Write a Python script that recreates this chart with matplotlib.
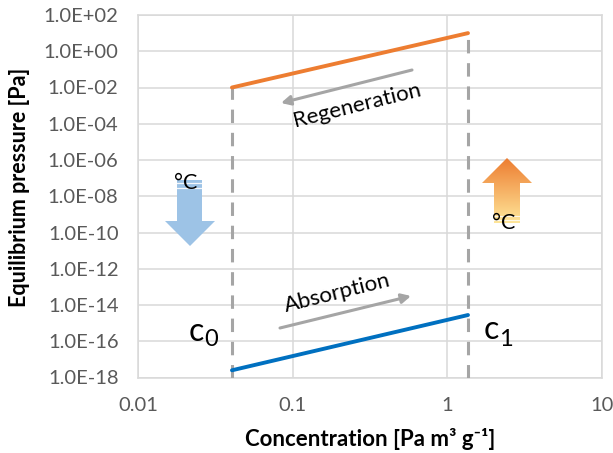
import numpy as np
import matplotlib
matplotlib.use("Agg")
import matplotlib.pyplot as plt
from matplotlib.patches import Polygon

W, H = 613, 453
plt.rcParams['font.family'] = ['Lato', 'DejaVu Sans']
plt.rcParams['mathtext.default'] = 'regular'

c_values = [0.0405, 1.36]
regeneration = [1e-2, 1e1]
absorption = [2.5e-18, 2.8e-15]
left_dash = [1e-18, 1e-2]
right_dash = [1e-18, 1e1]
x_ticks = [0.01, 0.1, 1, 10]
x_tick_labels = ['0.01', '0.1', '1', '10']
y_exponents = list(range(-18, 3, 2))
y_tick_labels = ['1.0E%+03d' % e for e in y_exponents]

fig = plt.figure(figsize=(W/100, H/100), dpi=100, facecolor='white')
L, R, T, B = 138, 602, 15, 377.5
ax = fig.add_axes([L/W, 1-B/H, (R-L)/W, (B-T)/H])
ax.set_xscale('log'); ax.set_yscale('log')
ax.set_xlim(0.01, 10); ax.set_ylim(1e-18, 1e2)
ax.minorticks_off()
ax.set_xticks(x_ticks); ax.set_xticklabels(x_tick_labels)
ax.set_yticks([10.0**e for e in y_exponents]); ax.set_yticklabels(y_tick_labels)
ax.tick_params(length=0, labelsize=14.5, labelcolor='#595959')
ax.tick_params(axis='y', pad=14)
ax.tick_params(axis='x', pad=14)
ax.grid(True, color='#D9D9D9', lw=1.1)
ax.set_axisbelow(True)
for s in ax.spines.values():
    s.set_color('#D9D9D9'); s.set_linewidth(1.1)

ax.plot([c_values[0]]*2, left_dash, color='#A5A5A5', lw=2.2, dashes=(4.4, 3.2), zorder=3)
ax.plot([c_values[1]]*2, right_dash, color='#A5A5A5', lw=2.2, dashes=(4.4, 3.2), zorder=3)
ax.plot(c_values, regeneration, color='#ED7D31', lw=2.8, zorder=4, solid_capstyle='round')
ax.plot(c_values, absorption, color='#0070C0', lw=2.8, zorder=4, solid_capstyle='round')

fig.text(370/W, 1-439/H, 'Concentration [Pa m³ g⁻¹]', ha='center', va='center',
         fontsize=16, fontweight='bold', color='black')
fig.text(20/W, 1-187/H, 'Equilibrium pressure [Pa]', rotation=90, ha='center', va='center',
         fontsize=15.5, fontweight='bold', color='black')

ov = fig.add_axes([0, 0, 1, 1], facecolor='none')
ov.set_xlim(0, W); ov.set_ylim(H, 0); ov.axis('off')

def grad_arrow(pts, top, bottom, ext):
    a = np.array(matplotlib.colors.to_rgb(top)); b = np.array(matplotlib.colors.to_rgb(bottom))
    t = np.linspace(0, 1, 100)[:, None, None]
    img = a[None, None, :]*(1-t) + b[None, None, :]*t
    im = ov.imshow(img, extent=ext, aspect='auto', zorder=5)
    p = Polygon(pts, closed=True, transform=ov.transData, fc='none', ec='none')
    ov.add_patch(p)
    im.set_clip_path(p)

ov.add_patch(Polygon([(177, 180), (202, 180), (202, 221), (215, 221), (190, 246), (165, 221), (177, 221)],
                     closed=True, fc='#9DC3E6', ec='none', zorder=5))
for y in (183, 188):
    ov.plot([177, 202], [y, y], color='white', lw=0.9, zorder=6, alpha=0.9)
grad_arrow([(507, 158), (532, 183), (520, 183), (520, 223), (494, 223), (494, 183), (482, 183)],
           '#ED7D31', '#FFE699', (482, 532, 223, 158))
for y in (216, 220):
    ov.plot([494, 520], [y, y], color='white', lw=0.8, zorder=6, alpha=0.8)
ov.set_xlim(0, W); ov.set_ylim(H, 0)

ov.text(186, 183, '°C', fontsize=15.5, ha='center', va='center', color='black', zorder=7)
ov.text(504, 223, '°C', fontsize=15.5, ha='center', va='center', color='black', zorder=7)

for start, end in (((412, 70), (281, 103)), ((280, 328), (411, 296))):
    ov.annotate('', xy=end, xytext=start, zorder=6,
                arrowprops=dict(arrowstyle='-|>,head_length=0.55,head_width=0.28', color='#A5A5A5',
                                lw=2.2, shrinkA=0, shrinkB=0))

ov.text(357, 105, 'Regeneration', fontsize=16, rotation=14, ha='center', va='center', color='black')
ov.text(337, 293, 'Absorption', fontsize=16, rotation=14, ha='center', va='center', color='black')

ov.text(189, 332, 'c', fontsize=23, ha='left', va='center', color='black')
ov.text(204, 340, '0', fontsize=17, ha='left', va='center', color='black')
ov.text(484, 330, 'c', fontsize=23, ha='left', va='center', color='black')
ov.text(499, 340, '1', fontsize=17, ha='left', va='center', color='black')

fig.savefig('out.png', dpi=100)
